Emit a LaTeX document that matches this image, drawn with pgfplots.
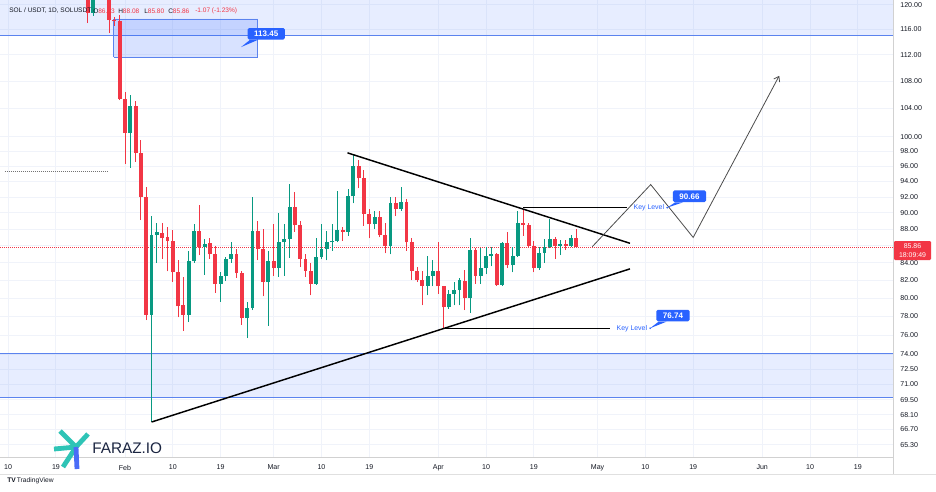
\documentclass[border=0pt]{standalone}
\usepackage{fontspec}
\setmainfont{Liberation Sans}
\usepackage{pgfplots}
\pgfplotsset{compat=1.18}
\usepackage{pgfplotstable}
\usetikzlibrary{arrows.meta}

\definecolor{tvgreen}{HTML}{089981}
\definecolor{tvred}{HTML}{F23645}
\definecolor{tvgrid}{HTML}{F0F3FA}
\definecolor{tvtext}{HTML}{131722}
\definecolor{tvblue}{HTML}{2962FF}
\definecolor{bandline}{HTML}{5B83EE}
\definecolor{farazteal}{HTML}{2EC4B6}
\definecolor{farazblue}{HTML}{4A6CF7}
\definecolor{faraznavy}{HTML}{1B2541}

% d = day of year (Jan 1 = 0)
\pgfplotstableread{
d o h l c
25 118.7 122 118.2 121
26 121 125 120.9 123
32 100.5 105.9 95.8 104.3
36 78.2 89.6 67.4 87.3
37 87.3 88.7 84.0 87.6
43 78.2 85.4 77.4 84.2
44 84.2 88.6 84.0 87.8
46 85.9 86.8 82.6 86.2
49 81.6 82.9 79.6 82.5
50 82.5 84.7 81.9 84.5
51 84.5 86.5 84.0 85.0
54 77.8 79.6 75.7 78.9
55 78.9 92.0 78.7 87.8
58 81.8 85.4 77.0 84.2
60 83.4 90.0 82.4 86.4
61 86.4 88.6 82.5 86.8
62 86.8 93.7 84.6 90.7
67 81.6 86.9 81.5 84.7
68 84.7 88.6 84.4 85.6
69 85.6 87.8 84.3 86.4
70 86.4 88.6 85.4 86.6
71 86.6 92.8 86.4 87.9
73 87.7 93.0 87.2 92.1
74 92.1 97.5 91.2 96.0
78 88.6 90.2 88.0 89.5
81 86.0 92.0 85.0 91.3
83 90.5 93.3 90.3 91.4
88 81.4 84.8 80.3 82.5
89 82.5 84.3 81.3 83.1
92 79.0 80.9 78.8 80.5
93 80.5 81.8 79.2 80.9
94 80.9 82.2 79.2 82.0
96 80.0 86.9 78.4 85.5
98 82.5 85.7 81.6 83.4
99 83.4 85.8 82.7 84.8
100 84.8 85.8 83.6 85.0
102 81.5 86.5 81.4 86.3
104 83.7 85.8 82.9 84.8
105 84.8 90.2 84.7 88.8
109 83.4 85.8 83.2 85.2
110 85.2 86.8 84.0 85.8
111 85.8 89.3 85.7 86.8
113 86.0 86.7 84.9 86.2
115 86.0 87.3 85.8 86.93
}\up

\pgfplotstableread{
d o h l c
24 121 124 117.0 118.7
27 123 124 121 121.5
28 121.5 123 115.4 117.5
29 117.6 118.0 116.6 117.3
30 117.4 118.4 105.2 105.4
31 105.4 106.4 96.3 100.5
33 104.3 105.0 96.6 97.8
34 97.8 99.6 89.1 92.0
35 92.0 93.3 77.6 78.2
38 87.5 88.8 84.5 86.9
39 87.0 88.3 83.0 86.6
40 86.6 87.9 81.8 82.9
41 82.9 84.3 77.9 79.1
42 79.2 82.4 76.5 78.2
45 87.8 91.0 84.9 85.9
47 86.3 86.9 84.5 85.0
48 85.0 86.0 80.6 81.6
52 85.0 85.6 82.3 82.8
53 82.8 83.0 77.1 77.8
56 87.8 89.0 84.3 85.6
57 85.6 88.0 80.2 81.8
59 84.2 88.6 82.5 83.4
63 90.7 92.6 87.7 88.5
64 88.5 89.0 83.5 84.5
65 84.5 85.0 82.4 83.1
66 83.1 84.0 80.3 81.6
72 87.9 88.3 86.6 87.7
75 96.0 96.8 93.1 94.4
76 94.4 95.5 88.4 89.9
77 89.9 90.5 86.9 88.6
79 89.5 90.2 87.0 87.3
80 87.3 88.7 85.1 86.0
82 91.3 92.0 89.6 90.5
84 91.4 91.7 85.4 86.4
85 86.4 86.9 82.0 83.1
86 83.1 83.5 81.8 82.0
87 82.0 83.0 79.2 81.4
90 83.1 86.5 80.5 81.3
91 81.3 81.4 76.74 79.0
95 81.9 83.2 78.7 80.0
97 85.5 85.7 81.6 82.5
101 85.0 85.1 81.4 81.5
103 86.3 87.6 83.4 83.7
106 88.8 90.5 87.2 88.5
107 88.5 88.8 85.8 86.0
108 86.0 86.6 82.9 83.4
112 86.8 87.0 84.5 86.0
114 86.2 86.7 85.5 86.0
116 86.93 88.08 85.80 85.86
}\down

\begin{document}
\begin{tikzpicture}
\path[use as bounding box, fill=white] (0,0) rectangle (702pt,-369pt);
\begin{axis}[
  at={(0pt,0pt)}, anchor=north west,
  scale only axis, width=669.75pt, height=342.75pt,
  xmin=7.46, xmax=175.63,
  ymode=log, ymin=64.22, ymax=120.83,
  axis x line*=bottom, axis y line*=right,
  axis line style={draw=black!18, line width=0.6pt, -},
  xtick={9,18,31,40,49,59,68,77,90,99,108,120,129,138,151,160,169},
  xticklabels={10,19,Feb,10,19,Mar,10,19,Apr,10,19,May,10,19,Jun,10,19},
  ytick={65.3,66.7,68.1,69.5,71,72.5,74,76,78,80,82,84,86,88,90,92,94,96,98,100,104,108,112,116,120},
  yticklabels={65.30,66.70,68.10,69.50,71.00,72.50,74.00,76.00,78.00,80.00,82.00,84.00,,88.00,90.00,92.00,94.00,96.00,98.00,100.00,104.00,108.00,112.00,116.00,120.00},
  major tick length=0pt,
  grid=major, major grid style={draw=tvgrid, line width=0.75pt},
  tick label style={font=\fontsize{5.3}{6}\selectfont, text=tvtext},
  /pgf/number format/assume math mode=true,
  yticklabel style={xshift=2pt},
  xticklabel style={yshift=-2.5pt},
]
% zones
\addplot[fill=tvblue, fill opacity=0.11, draw=none, forget plot] coordinates {(7.46,115.1)(175.63,115.1)(175.63,125)(7.46,125)};
\addplot[bandline, line width=0.75pt, forget plot] coordinates {(7.46,115.1)(175.63,115.1)};
\addplot[fill=tvblue, fill opacity=0.11, draw=none, forget plot] coordinates {(7.46,69.7)(175.63,69.7)(175.63,74.15)(7.46,74.15)};
\addplot[bandline, line width=0.75pt, forget plot] coordinates {(7.46,69.7)(175.63,69.7)};
\addplot[bandline, line width=0.75pt, forget plot] coordinates {(7.46,74.15)(175.63,74.15)};
\addplot[fill=tvblue, fill opacity=0.18, draw=bandline, line width=0.6pt, forget plot] coordinates {(28.9,111.6)(56.0,111.6)(56.0,117.7)(28.9,117.7)(28.9,111.6)};
% reference lines
\addplot[tvred, densely dotted, line width=0.5pt, forget plot] coordinates {(7.46,85.86)(175.63,85.86)};
\addplot[black!55, densely dotted, line width=0.5pt, forget plot] coordinates {(8.4,95.3)(27.8,95.3)};
% wicks
\addplot[draw=none, mark=none, forget plot, error bars/.cd, y dir=plus, y explicit, error mark=none,
  error bar style={line width=0.75pt, draw=tvgreen}]
  table[x=d, y=l, y error expr=\thisrow{h}-\thisrow{l}] {\up};
\addplot[draw=none, mark=none, forget plot, error bars/.cd, y dir=plus, y explicit, error mark=none,
  error bar style={line width=0.75pt, draw=tvred}]
  table[x=d, y=l, y error expr=\thisrow{h}-\thisrow{l}] {\down};
% bodies
\addplot[draw=none, mark=none, forget plot, error bars/.cd, y dir=plus, y explicit, error mark=none,
  error bar style={line width=2.9pt, draw=tvgreen}]
  table[x=d, y=o, y error expr=\thisrow{c}-\thisrow{o}] {\up};
\addplot[draw=none, mark=none, forget plot, error bars/.cd, y dir=plus, y explicit, error mark=none,
  error bar style={line width=2.9pt, draw=tvred}]
  table[x=d, y=c, y error expr=\thisrow{o}-\thisrow{c}] {\down};
% triangle
\addplot[black, line width=1.1pt, forget plot] coordinates {(72.9,97.8)(126.1,86.3)};
\addplot[black, line width=1.1pt, forget plot] coordinates {(36.0,67.4)(126.1,83.3)};
% key levels
\addplot[black, line width=0.9pt, forget plot] coordinates {(106,90.66)(125.5,90.66)};
\addplot[black, line width=0.9pt, forget plot] coordinates {(91,76.74)(122.3,76.74)};
% projection path
\addplot[black!70, line width=0.6pt, -{Straight Barb[length=3.5pt,width=5pt]}, forget plot] coordinates {(119.0,85.9)(130.0,93.6)(138.0,87.0)(154.2,108.8)};
% labels
\node[text=tvblue, font=\fontsize{5.2}{6}\selectfont, anchor=east, inner sep=0.5pt] at (axis cs:132.7,90.66) {Key Level};
\node[text=tvblue, font=\fontsize{5.2}{6}\selectfont, anchor=east, inner sep=0.5pt] at (axis cs:129.5,76.74) {Key Level};
\fill[tvblue] (axis cs:133.1,90.66) circle (0.7pt);
\fill[tvblue] (axis cs:129.9,76.74) circle (0.7pt);
\node[fill=tvblue, text=white, font=\bfseries\fontsize{6}{7}\selectfont, rounded corners=1.2pt, inner xsep=5pt, inner ysep=2.2pt] (ca) at (axis cs:137.3,92.1) {90.66};
\fill[tvblue] ([xshift=2pt]ca.south west) -- (axis cs:133.1,90.66) -- ([xshift=8pt]ca.south west) -- cycle;
\node[fill=tvblue, text=white, font=\bfseries\fontsize{6}{7}\selectfont, rounded corners=1.2pt, inner xsep=5pt, inner ysep=2.2pt] (cb) at (axis cs:134.2,78.1) {76.74};
\fill[tvblue] ([xshift=2pt]cb.south west) -- (axis cs:129.9,76.74) -- ([xshift=8pt]cb.south west) -- cycle;
\node[fill=tvblue, text=white, font=\bfseries\fontsize{6}{7}\selectfont, rounded corners=1.2pt, inner xsep=5pt, inner ysep=2.2pt] (cc) at (axis cs:57.6,115.3) {113.45};
\fill[tvblue] ([xshift=2pt]cc.south west) -- (axis cs:52.85,113.2) -- ([xshift=8pt]cc.south west) -- cycle;
\end{axis}
\begin{scope}[x=0.75pt, y=-0.75pt]
% header
\node[anchor=west, inner sep=0pt, text=tvtext, font=\fontsize{4.9}{5}\selectfont] at (9,11) {SOL / USDT, 1D, SOLUSDT};
\node[anchor=west, inner sep=0pt, font=\fontsize{4.9}{5}\selectfont] at (93,11) {\textcolor{tvtext}{O}\textcolor{tvred}{86.93}};
\node[anchor=west, inner sep=0pt, font=\fontsize{4.9}{5}\selectfont] at (118,11) {\textcolor{tvtext}{H}\textcolor{tvred}{88.08}};
\node[anchor=west, inner sep=0pt, font=\fontsize{4.9}{5}\selectfont] at (144,11) {\textcolor{tvtext}{L}\textcolor{tvred}{85.80}};
\node[anchor=west, inner sep=0pt, font=\fontsize{4.9}{5}\selectfont] at (168,11) {\textcolor{tvtext}{C}\textcolor{tvred}{85.86}};
\node[anchor=west, inner sep=0pt, font=\fontsize{4.9}{5}\selectfont, text=tvred] at (195,11) {-1.07 (-1.23\%)};
% price label
\fill[tvred, rounded corners=0.8pt] (894,241) rectangle (931,260);
\node[text=white, font=\fontsize{5.2}{6}\selectfont, inner sep=0pt] at (912.5,246) {85.86};
\node[text=white, font=\fontsize{5.2}{6}\selectfont, inner sep=0pt] at (912.5,255) {18:09:49};
% footer
\draw[black!12, line width=0.6pt] (0,474) -- (936,474);
\draw[black!18, line width=0.6pt] (893,457) -- (893,474);
\node[anchor=west, inner sep=0pt, text=tvtext, font=\fontsize{5}{6}\selectfont] at (7,481) {\textbf{TV}\,TradingView};
% logo
\draw[farazteal, line width=3.6pt] (60,431) -- (76,447);
\draw[farazteal, line width=3.6pt] (88,434) -- (76,447);
\draw[farazteal, line width=3.6pt] (54,449) -- (76,447);
\draw[farazteal, line width=3.6pt] (63,467) -- (76,447);
\draw[farazblue, line width=3.6pt] (77,469) -- (76,447);
\node[anchor=west, inner sep=0pt, text=faraznavy, font=\fontsize{11.5}{12}\selectfont] at (92,448) {FARAZ.IO};
\end{scope}
\end{tikzpicture}
\end{document}
